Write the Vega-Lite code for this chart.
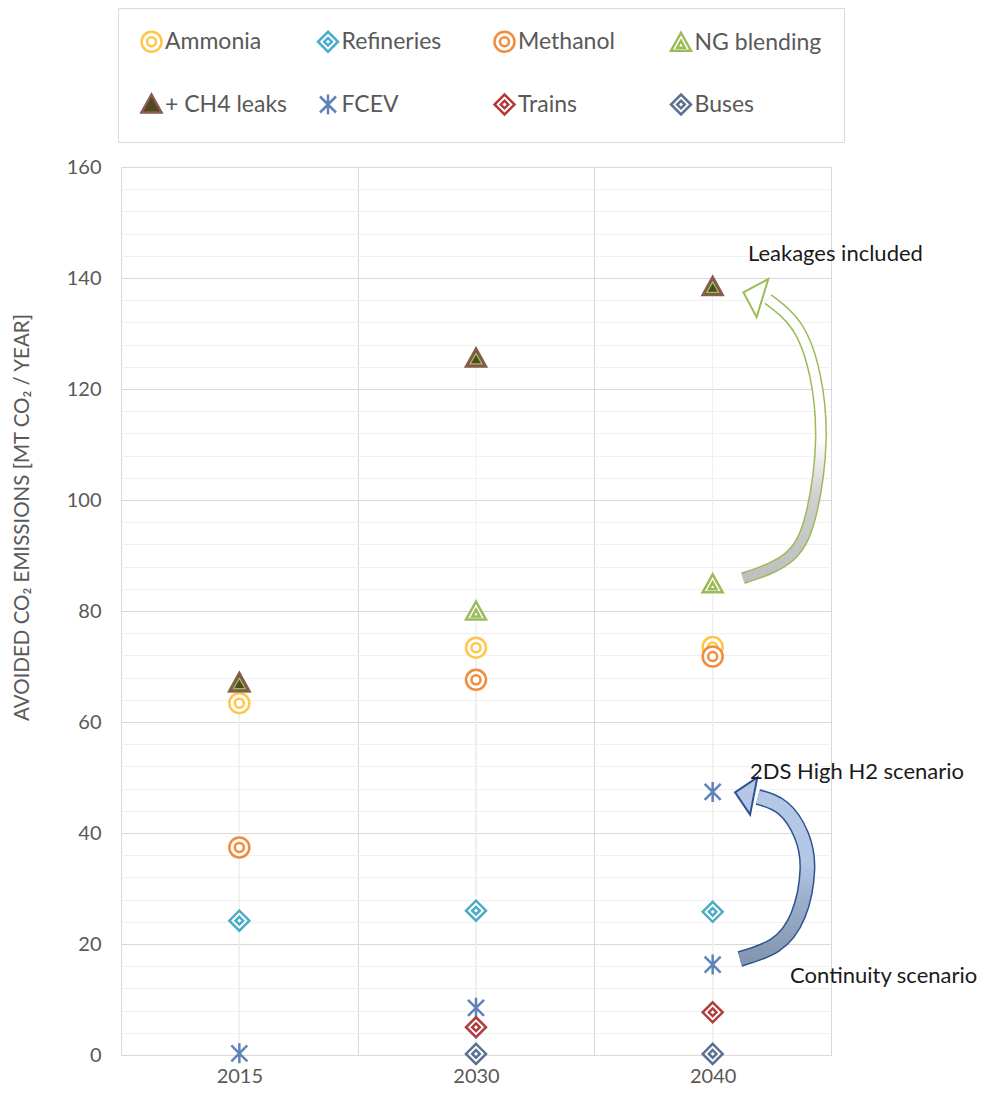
{
  "$schema": "https://vega.github.io/schema/vega-lite/v6.json",
  "width": 710,
  "height": 888,
  "autosize": "none",
  "padding": {"left": 121, "top": 167, "right": 155, "bottom": 43},
  "background": "white",
  "config": {
    "font": "Lato",
    "view": {"stroke": "#d9d9d9"},
    "legend": {
      "orient": "none",
      "legendX": -3,
      "legendY": -159,
      "direction": "horizontal",
      "columns": 4,
      "gridAlign": "all",
      "labelFontSize": 23,
      "labelColor": "#595959",
      "labelOffset": 2,
      "labelLimit": 300,
      "symbolSize": 400,
      "symbolStrokeWidth": 2.5,
      "strokeColor": "#d9d9d9",
      "fillColor": "white",
      "padding": 22,
      "rowPadding": 32,
      "columnPadding": 20.5
    }
  },
  "datasets": {
    "points": [
      {"year": "2015", "series": "NG blending", "value": 67},
      {"year": "2015", "series": "Ammonia", "value": 63.4},
      {"year": "2015", "series": "+ CH4 leaks", "value": 67},
      {"year": "2015", "series": "Methanol", "value": 37.4},
      {"year": "2015", "series": "Refineries", "value": 24.2},
      {"year": "2015", "series": "FCEV", "value": 0.3},
      {"year": "2030", "series": "Ammonia", "value": 73.4},
      {"year": "2030", "series": "Methanol", "value": 67.6},
      {"year": "2030", "series": "NG blending", "value": 79.9},
      {"year": "2030", "series": "+ CH4 leaks", "value": 125.5},
      {"year": "2030", "series": "Refineries", "value": 26},
      {"year": "2030", "series": "FCEV", "value": 8.5},
      {"year": "2030", "series": "Trains", "value": 5},
      {"year": "2030", "series": "Buses", "value": 0.2},
      {"year": "2040", "series": "Ammonia", "value": 73.5},
      {"year": "2040", "series": "Methanol", "value": 71.8},
      {"year": "2040", "series": "NG blending", "value": 84.8},
      {"year": "2040", "series": "+ CH4 leaks", "value": 138.4},
      {"year": "2040", "series": "Refineries", "value": 25.8},
      {"year": "2040", "series": "FCEV", "value": 16.3},
      {"year": "2040", "series": "FCEV", "value": 47.4},
      {"year": "2040", "series": "Trains", "value": 7.7},
      {"year": "2040", "series": "Buses", "value": 0.2}
    ],
    "arrows": [
      {"arrow": "leak", "i": 1, "x": 2.628, "value": 85.9},
      {"arrow": "leak", "i": 2, "x": 2.827, "value": 89.9},
      {"arrow": "leak", "i": 3, "x": 2.92, "value": 98.2},
      {"arrow": "leak", "i": 4, "x": 2.957, "value": 110.8},
      {"arrow": "leak", "i": 5, "x": 2.932, "value": 122.5},
      {"arrow": "leak", "i": 6, "x": 2.856, "value": 131.2},
      {"arrow": "leak", "i": 7, "x": 2.734, "value": 136.2},
      {"arrow": "h2", "i": 1, "x": 2.615, "value": 17.3},
      {"arrow": "h2", "i": 2, "x": 2.763, "value": 19.8},
      {"arrow": "h2", "i": 3, "x": 2.861, "value": 25.2},
      {"arrow": "h2", "i": 4, "x": 2.9, "value": 33.3},
      {"arrow": "h2", "i": 5, "x": 2.875, "value": 39.6},
      {"arrow": "h2", "i": 6, "x": 2.797, "value": 44.5},
      {"arrow": "h2", "i": 7, "x": 2.691, "value": 46.5}
    ],
    "heads": [
      {"arrow": "leak", "x": 2.67, "value": 136.9},
      {"arrow": "h2", "x": 2.634, "value": 47.0}
    ],
    "notes": [
      {"label": "Leakages included", "x": 2.649, "value": 144.3},
      {"label": "2DS High H2 scenario", "x": 2.658, "value": 51.0},
      {"label": "Continuity scenario", "x": 2.827, "value": 14.2}
    ]
  },
  "encoding": {
    "y": {
      "field": "value",
      "type": "quantitative",
      "scale": {"domain": [0, 160], "nice": false, "zero": true},
      "axis": {
        "values": [0, 4, 8, 12, 16, 20, 24, 28, 32, 36, 40, 44, 48, 52, 56, 60, 64, 68, 72, 76, 80, 84, 88, 92, 96, 100, 104, 108, 112, 116, 120, 124, 128, 132, 136, 140, 144, 148, 152, 156, 160],
        "labelExpr": "datum.value % 20 === 0 ? datum.label : ''",
        "gridColor": {"condition": {"test": "datum.value % 20 === 0", "value": "#d9d9d9"}, "value": "#f0f0f0"},
        "ticks": false,
        "domain": false,
        "labelFontSize": 20,
        "labelColor": "#595959",
        "labelPadding": 20,
        "title": "AVOIDED CO₂ EMISSIONS [MT CO₂ / YEAR]",
        "titleFontSize": 20.5,
        "titleFontWeight": "normal",
        "titleColor": "#595959",
        "titleX": -99,
        "titleY": 350,
        "titleAngle": -90,
        "titleAlign": "center",
        "titleBaseline": "middle"
      }
    }
  },
  "layer": [
    {
      "data": {"name": "points"},
      "encoding": {
        "x": {
          "field": "year",
          "type": "nominal",
          "scale": {"paddingInner": 0, "paddingOuter": 0},
          "axis": {
            "tickBand": "extent",
            "grid": true,
            "gridColor": "#d9d9d9",
            "ticks": false,
            "domain": false,
            "labelAngle": 0,
            "labelFontSize": 20,
            "labelColor": "#595959",
            "labelPadding": 11,
            "title": null
          }
        }
      },
      "layer": [
        {"mark": {"type": "rule", "color": "#eeeeee", "strokeWidth": 1}, "encoding": {}},
        {
          "mark": {"type": "point", "size": 400, "strokeWidth": 2.5, "opacity": 1},
          "encoding": {
            "stroke": {
              "field": "series",
              "type": "nominal",
              "scale": {
                "domain": ["Ammonia", "Refineries", "Methanol", "NG blending", "+ CH4 leaks", "FCEV", "Trains", "Buses"],
                "range": ["#ffc64a", "#4bacc6", "#f38b3c", "#9bbb59", "#8a5a52", "#5f83b9", "#b03c3c", "#5b7193"]
              },
              "legend": {"title": null}
            },
            "fill": {
              "field": "series",
              "type": "nominal",
              "scale": {
                "domain": ["Ammonia", "Refineries", "Methanol", "NG blending", "+ CH4 leaks", "FCEV", "Trains", "Buses"],
                "range": ["white", "white", "white", "white", "#514a20", "white", "white", "white"]
              },
              "legend": {"title": null}
            },
            "shape": {
              "field": "series",
              "type": "nominal",
              "scale": {
                "domain": ["Ammonia", "Refineries", "Methanol", "NG blending", "+ CH4 leaks", "FCEV", "Trains", "Buses"],
                "range": [
                  "M-1,0A1,1,0,1,1,1,0A1,1,0,1,1,-1,0ZM-0.45,0A0.45,0.45,0,1,1,0.45,0A0.45,0.45,0,1,1,-0.45,0Z",
                  "M0,-1L1,0L0,1L-1,0ZM0,-0.38L0.38,0L0,0.38L-0.38,0Z",
                  "M-1,0A1,1,0,1,1,1,0A1,1,0,1,1,-1,0ZM-0.45,0A0.45,0.45,0,1,1,0.45,0A0.45,0.45,0,1,1,-0.45,0Z",
                  "M0,-1L1,0.8L-1,0.8ZM0,-0.2L0.38,0.5L-0.38,0.5Z",
                  "M0,-1L1,0.8L-1,0.8Z",
                  "M-0.8,-0.8L0.8,0.8M-0.8,0.8L0.8,-0.8M0,-1L0,1",
                  "M0,-1L1,0L0,1L-1,0ZM0,-0.38L0.38,0L0,0.38L-0.38,0Z",
                  "M0,-1L1,0L0,1L-1,0ZM0,-0.38L0.38,0L0,0.38L-0.38,0Z"
                ]
              },
              "legend": {"title": null}
            }
          }
        },
        {
          "transform": [{"filter": "datum.series === '+ CH4 leaks'"}],
          "mark": {"type": "point", "shape": "M0,-0.5L0.6,0.55L-0.6,0.55Z", "size": 400, "filled": false, "stroke": "#9bbb59", "strokeWidth": 1.5, "opacity": 1}
        }
      ]
    },
    {
      "encoding": {
        "x": {"field": "x", "type": "quantitative", "scale": {"domain": [0, 3], "nice": false, "zero": false}, "axis": null}
      },
      "layer": [
        {
          "data": {"name": "arrows"},
          "transform": [{"filter": "datum.arrow === 'leak'"}],
          "mark": {"type": "line", "stroke": "#9bbb59", "strokeWidth": 12, "interpolate": "natural"},
          "encoding": {"order": {"field": "i", "type": "quantitative"}}
        },
        {
          "data": {"name": "arrows"},
          "transform": [{"filter": "datum.arrow === 'leak'"}],
          "mark": {"type": "line", "strokeWidth": 9, "interpolate": "natural",
            "stroke": {"gradient": "linear", "x1": 0, "y1": 1, "x2": 0, "y2": 0,
              "stops": [{"offset": 0, "color": "#bfbfbf"}, {"offset": 0.3, "color": "#d0d0d0"}, {"offset": 0.5, "color": "white"}, {"offset": 1, "color": "white"}]}},
          "encoding": {"order": {"field": "i", "type": "quantitative"}}
        },
        {
          "data": {"name": "heads"},
          "transform": [{"filter": "datum.arrow === 'leak'"}],
          "mark": {"type": "point", "shape": "M-0.5,0L0.5,-1L0.5,1Z", "size": 1600, "filled": true, "fill": "white", "stroke": "#9bbb59", "strokeWidth": 2, "angle": 17, "opacity": 1}
        },
        {
          "data": {"name": "arrows"},
          "transform": [{"filter": "datum.arrow === 'h2'"}],
          "mark": {"type": "line", "stroke": "#2f528f", "strokeWidth": 16, "interpolate": "natural"},
          "encoding": {"order": {"field": "i", "type": "quantitative"}}
        },
        {
          "data": {"name": "arrows"},
          "transform": [{"filter": "datum.arrow === 'h2'"}],
          "mark": {"type": "line", "strokeWidth": 13, "interpolate": "natural",
            "stroke": {"gradient": "linear", "x1": 0, "y1": 1, "x2": 0, "y2": 0,
              "stops": [{"offset": 0, "color": "#8497b0"}, {"offset": 0.35, "color": "#9aaecb"}, {"offset": 0.6, "color": "#b4c7e7"}, {"offset": 1, "color": "#b4c7e7"}]}},
          "encoding": {"order": {"field": "i", "type": "quantitative"}}
        },
        {
          "data": {"name": "heads"},
          "transform": [{"filter": "datum.arrow === 'h2'"}],
          "mark": {"type": "point", "shape": "M-0.5,0L0.5,-1L0.5,1Z", "size": 1440, "filled": true, "fill": "#b4c7e7", "stroke": "#2f528f", "strokeWidth": 2, "angle": 11, "opacity": 1}
        },
        {
          "data": {"name": "notes"},
          "mark": {"type": "text", "align": "left", "baseline": "middle", "fontSize": 22, "color": "#1a1a1a"},
          "encoding": {"text": {"field": "label", "type": "nominal"}}
        }
      ]
    }
  ],
  "resolve": {"scale": {"x": "independent"}}
}
